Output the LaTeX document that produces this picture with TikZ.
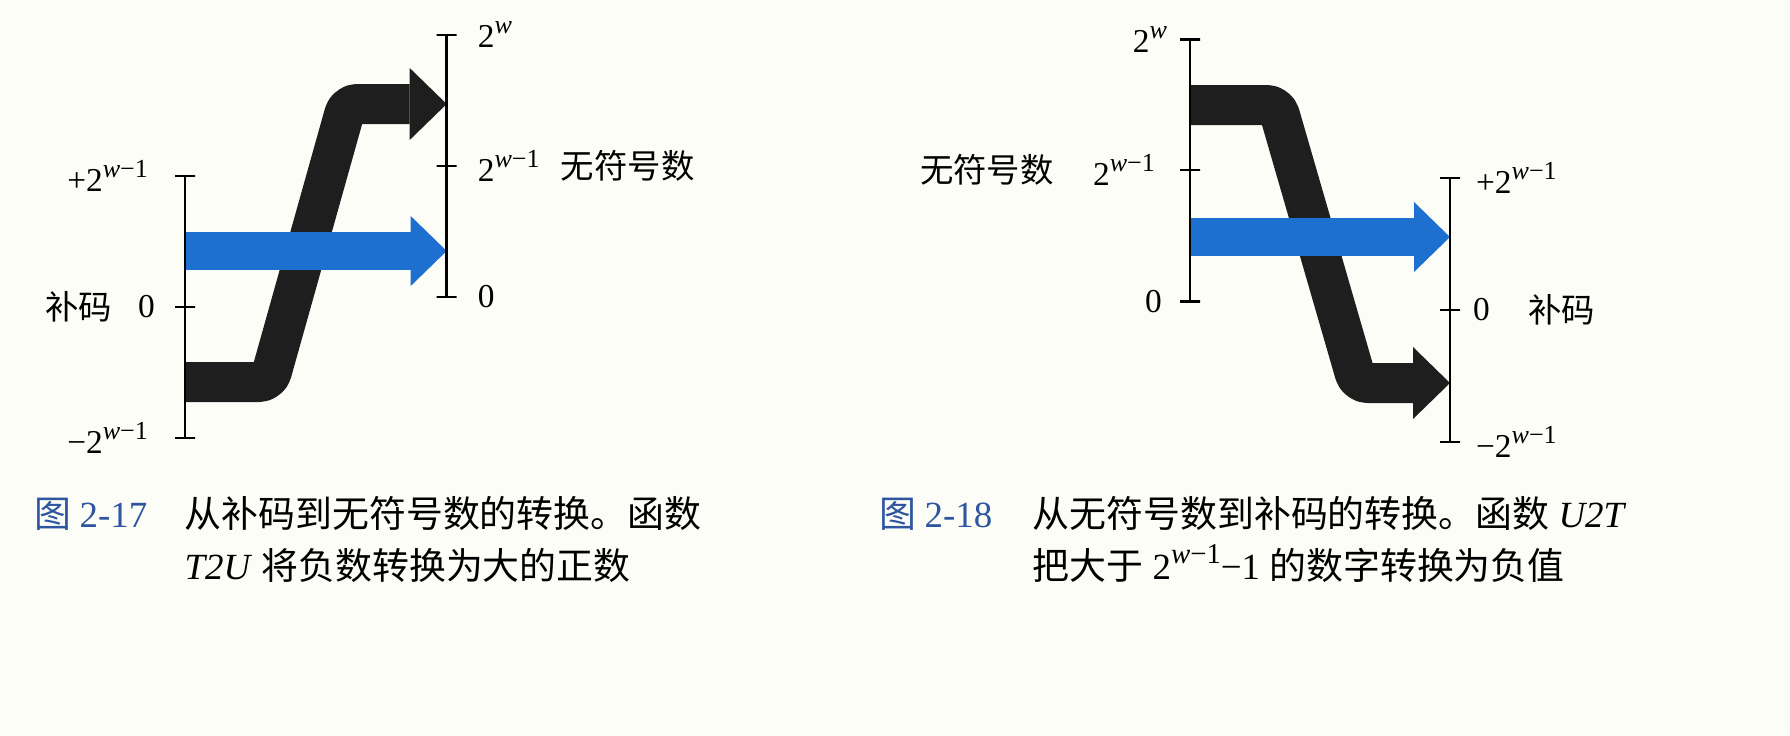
\documentclass[tikz,border=0pt]{standalone}
\usepackage{fontspec}
\setmainfont{Liberation Serif}
\newfontfamily\cjk{Noto Sans CJK SC}
\usetikzlibrary{arrows.meta,positioning}
\definecolor{paper}{RGB}{253,253,247}
\definecolor{bandblue}{RGB}{30,112,208}
\definecolor{bandblack}{RGB}{30,30,30}
\definecolor{figblue}{RGB}{45,85,160}
\newcommand{\twopow}[1]{2\raisebox{0.42em}{\scalebox{0.78}{\textit{w}#1}}}

\begin{document}
\begin{tikzpicture}[
    axisline/.style={line width=0.8pt},
    tickmark/.style={draw,line width=0.8pt,inner sep=0pt,minimum width=2mm,%
      minimum height=0pt},
    band/.style={line width=#1,line join=round,rounded corners=1mm},
    lbl/.style={inner sep=0pt,font=\fontsize{9.5}{11}\selectfont},
    capt/.style={inner sep=0pt,anchor=base west,font=\fontsize{10.5}{13}\selectfont}]
  \fill[paper] (0,0) rectangle (17.9,7.35) ;
  \useasboundingbox (0,0) rectangle (17.9,7.35) ;
  % Fig. 2-17
  \coordinate (Bs) at (1.85,4.84) ;
  \coordinate (Be) at (4.467,4.84) ;
  \coordinate (Ks) at (1.85,3.53) ;
  \coordinate (K1) at (2.69,3.53) ;
  \coordinate (K2) at (3.47,6.31) ;
  \coordinate (Ke) at (4.467,6.31) ;
  \draw[band=4mm,bandblack,-{Triangle[length=3.7mm,width=7.2mm,line width=0pt]}] %
  (Ks) -- (K1) -- (K2) -- (Ke) ;
  \draw[band=3.8mm,bandblue,-{Triangle[length=3.6mm,width=7mm,line width=0pt]}] %
  (Bs) -- (Be) ;
  \node[tickmark,label={[lbl,xshift=-2.5mm]180:+\twopow{−1}}] %
  (Tp) at (1.85,5.59) {} ;
  \node[tickmark,label={[lbl,xshift=-1.8mm,name=Tz0]180:0}] %
  (Tz) at (1.85,4.28) {} ;
  \node[tickmark,label={[lbl,xshift=-2.5mm]180:−\twopow{−1}}] %
  (Tn) at (1.85,2.97) {} ;
  \draw[axisline] (Tp.center) -- (Tn.center) ;
  \node[lbl,left=2.5mm of Tz0] (tcL) {\cjk 补码} ;
  \node[tickmark,label={[lbl,xshift=1.9mm]0:\twopow{}}] %
  (Uw) at (4.467,7.00) {} ;
  \node[tickmark,label={[lbl,xshift=1.9mm,name=Uh0]0:\twopow{−1}}] %
  (Uh) at (4.467,5.69) {} ;
  \node[tickmark,label={[lbl,xshift=1.9mm]0:0}] %
  (Uz) at (4.467,4.38) {} ;
  \draw[axisline] (Uw.center) -- (Uz.center) ;
  \node[lbl,right=2mm of Uh0] (ucL) {\cjk 无符号数} ;
  % Fig. 2-18
  \coordinate (bs) at (11.90,4.98) ;
  \coordinate (be) at (14.50,4.98) ;
  \coordinate (ks) at (11.90,6.30) ;
  \coordinate (k1) at (12.77,6.30) ;
  \coordinate (k2) at (13.575,3.52) ;
  \coordinate (ke) at (14.50,3.52) ;
  \draw[band=4mm,bandblack,-{Triangle[length=3.7mm,width=7.2mm,line width=0pt]}] %
  (ks) -- (k1) -- (k2) -- (ke) ;
  \draw[band=3.8mm,bandblue,-{Triangle[length=3.6mm,width=7mm,line width=0pt]}] %
  (bs) -- (be) ;
  \node[tickmark,label={[lbl,xshift=-1.1mm]180:\twopow{}}] %
  (uw) at (11.90,6.957) {} ;
  \node[tickmark,label={[lbl,xshift=-2.3mm,name=uh0]180:\twopow{−1}}] %
  (uh) at (11.90,5.65) {} ;
  \node[tickmark,label={[lbl,xshift=-1.6mm]180:0}] %
  (uz) at (11.90,4.333) {} ;
  \draw[axisline] (uw.center) -- (uz.center) ;
  \node[lbl,left=3.8mm of uh0] (ucR) {\cjk 无符号数} ;
  \node[tickmark,label={[lbl,xshift=1.4mm]0:+\twopow{−1}}] %
  (tp) at (14.50,5.57) {} ;
  \node[tickmark,label={[lbl,xshift=1.1mm,name=tz0]0:0}] %
  (tz) at (14.50,4.25) {} ;
  \node[tickmark,label={[lbl,xshift=1.4mm]0:−\twopow{−1}}] %
  (tn) at (14.50,2.93) {} ;
  \draw[axisline] (tp.center) -- (tn.center) ;
  \node[lbl,right=3.7mm of tz0] (tcR) {\cjk 补码} ;
  % captions
  \node[capt,text=figblue] (f17) at (0.34,2.08) {{\cjk 图}\hspace{0.8mm}2-17} ;
  \node[capt] (c17a) at (1.84,2.08) {\cjk 从补码到无符号数的转换。函数} ;
  \node[capt] (c17b) at (1.84,1.56) {\textit{T2U} {\cjk 将负数转换为大的正数}} ;
  \node[capt,text=figblue] (f18) at (8.79,2.08) {{\cjk 图}\hspace{0.8mm}2-18} ;
  \node[capt] (c18a) at (10.32,2.08) {{\cjk 从无符号数到补码的转换。函数} \textit{U2T}} ;
  \node[capt] (c18b) at (10.32,1.56) {{\cjk 把大于} \twopow{−1}−1 {\cjk 的数字转换为负值}} ;
\end{tikzpicture}
\end{document}
